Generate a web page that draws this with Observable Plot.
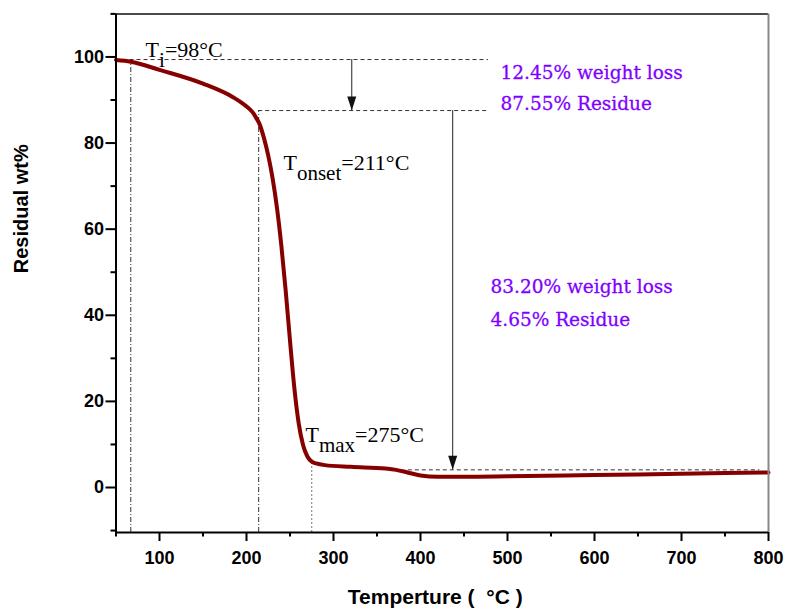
<!DOCTYPE html>
<html><head><meta charset="utf-8">
<script src="https://cdn.jsdelivr.net/npm/d3@7"></script>
<script src="https://cdn.jsdelivr.net/npm/@observablehq/plot@0.6"></script>
<style>body{margin:0;background:#fff}</style>
</head><body><div id="chart"></div>
<script>
// ---- data ----
const temps    = [50, 67, 100, 150, 185, 195, 203, 208, 211, 215, 220, 225, 230, 235, 240, 245, 250, 255, 260, 265, 270, 275, 280, 290, 320, 360, 372, 385, 400, 420, 450, 500, 600, 700, 800];
const residual = [99.3, 98.9, 97.0, 93.8, 90.6, 89.3, 88.0, 86.9, 85.9, 84.4, 81.2, 77.1, 71.8, 65.0, 56.3, 45.8, 34.1, 23.1, 14.9, 9.9, 7.2, 6.0, 5.6, 5.2, 4.8, 4.4, 4.1, 3.5, 2.8, 2.5, 2.5, 2.6, 2.9, 3.2, 3.5];

const xMajorTicks = [100, 200, 300, 400, 500, 600, 700, 800];
const xMinorTicks = [50, 150, 250, 350, 450, 550, 650, 750];
const yMajorTicks = [0, 20, 40, 60, 80, 100];
const yMinorTicks = [-10, 10, 30, 50, 70, 90, 110];
const xDomain = [50, 800];
const yDomain = [-10.45, 110];

// reference lines
const hDashY  = [99.4, 87.55, 4.1];
const hDashX1 = [50, 214, 386];
const hDashX2 = [478, 478, 790];
const dashDotX   = [67, 214];
const dashDotTop = [99.4, 87.55];
const dotX   = [275];
const dotTop = [6.0];
const arrowX    = [321, 437];
const arrowFrom = [99.4, 87.55];
const arrowTo   = [87.55, 4.1];

// annotations
const tempLabels = ["T|i|=98°C", "T|onset|=211°C", "T|max|=275°C"];
const tempLabelX = [84, 242.5, 267.8];
const tempLabelY = [101.6, 75.3, 12.1];
const lossTexts = ["12.45% weight loss", "87.55% Residue", "83.20% weight loss", "4.65% Residue"];
const lossX = [492, 492, 480.5, 480.5];
const lossY = [96.3, 89.1, 46.6, 39.0];

const xTitle = "Temperture ( \u00a0°C )";
const yTitle = "Residual wt%";

// ---- chart ----
const idx = n => d3.range(n);
const arrowHead = {draw(ctx) { ctx.moveTo(0, 0); ctx.lineTo(-4.5, -14); ctx.lineTo(4.5, -14); ctx.closePath(); }};
const sans = "Liberation Sans, Arial, sans-serif";

const svg = Plot.plot({
  width: 785,
  height: 610,
  marginLeft: 115.5,
  marginRight: 17,
  marginTop: 13.4,
  marginBottom: 78,
  style: {background: "white", fontFamily: sans},
  x: {domain: xDomain},
  y: {domain: yDomain},
  marks: [
    // dashed horizontals
    Plot.ruleY(idx(hDashY.length), {y: i => hDashY[i], x1: i => hDashX1[i], x2: i => hDashX2[i], stroke: "#333", strokeWidth: 1, strokeDasharray: "4,3"}),
    // dash-dot verticals
    Plot.ruleX(idx(dashDotX.length), {x: i => dashDotX[i], y1: yDomain[0], y2: i => dashDotTop[i], stroke: "#333", strokeWidth: 1, strokeDasharray: "5,2,1,2"}),
    Plot.ruleX(idx(dotX.length), {x: i => dotX[i], y1: yDomain[0], y2: i => dotTop[i], stroke: "#777", strokeWidth: 1, strokeDasharray: "2,2"}),
    // arrows
    Plot.ruleX(idx(arrowX.length), {x: i => arrowX[i], y1: i => arrowFrom[i], y2: i => arrowTo[i], stroke: "#222", strokeWidth: 1}),
    Plot.dot(idx(arrowX.length), {x: i => arrowX[i], y: i => arrowTo[i], symbol: arrowHead, fill: "#111", stroke: "none"}),
    // curve
    Plot.line(temps, {x: d => d, y: (d, i) => residual[i], stroke: "#860000", strokeWidth: 4, curve: "monotone-x"}),
    // frame
    Plot.ruleY([yDomain[1]], {x1: xDomain[0], x2: xDomain[1], stroke: "#111", strokeWidth: 1.5}),
    Plot.ruleX([xDomain[1]], {y1: yDomain[0], y2: yDomain[1], stroke: "#888", strokeWidth: 2}),
    Plot.ruleX([xDomain[0]], {y1: yDomain[0], y2: yDomain[1], stroke: "#000", strokeWidth: 2}),
    Plot.ruleY([yDomain[0]], {x1: xDomain[0], x2: xDomain[1], stroke: "#000", strokeWidth: 2}),
    // axes
    Plot.axisX({ticks: xMajorTicks, tickSize: 9, tickPadding: 10, fontSize: 18, fontWeight: "bold", fontFamily: sans, label: null, strokeWidth: 2, tickFormat: d => d}),
    Plot.axisX({ticks: xMinorTicks, tickSize: 4.5, label: null, strokeWidth: 2, tickFormat: () => ""}),
    Plot.axisY({ticks: yMajorTicks, tickSize: 10, tickPadding: 2, fontSize: 18, fontWeight: "bold", fontFamily: sans, label: null, strokeWidth: 2, tickFormat: d => d}),
    Plot.axisY({ticks: yMinorTicks, tickSize: 5, label: null, strokeWidth: 2, tickFormat: () => ""}),
    // axis titles
    Plot.text([yTitle], {frameAnchor: "left", dx: -94, rotate: -90, fontSize: 20, fontWeight: "bold", fontFamily: sans, fill: "#000"}),
    Plot.text([xTitle], {frameAnchor: "bottom", dx: -7, dy: 71, fontSize: 21, fontWeight: "bold", fontFamily: sans, fill: "#000"}),
    // annotations
    Plot.text(idx(tempLabels.length), {x: i => tempLabelX[i], y: i => tempLabelY[i], text: i => tempLabels[i], textAnchor: "start", fontSize: 22, fontFamily: "Liberation Serif, Times New Roman, serif", fill: "#000"}),
    Plot.text(idx(lossTexts.length), {x: i => lossX[i], y: i => lossY[i], text: i => lossTexts[i], textAnchor: "start", fontSize: 18.5, fontFamily: "DejaVu Serif, serif", fill: "#7f00ff", stroke: "#7f00ff", strokeWidth: 0.3})
  ]
});

// subscripts: "T|sub|rest"
d3.select(svg).selectAll("text").each(function () {
  const s = this.textContent;
  if (!s.includes("|")) return;
  const [a, b, c] = s.split("|");
  const el = d3.select(this);
  el.text(null);
  el.append("tspan").text(a);
  el.append("tspan").attr("dy", 10).attr("font-size", 21).text(b);
  el.append("tspan").attr("dy", -10).text(c);
});

document.getElementById("chart").appendChild(svg);
</script>
</body></html>
